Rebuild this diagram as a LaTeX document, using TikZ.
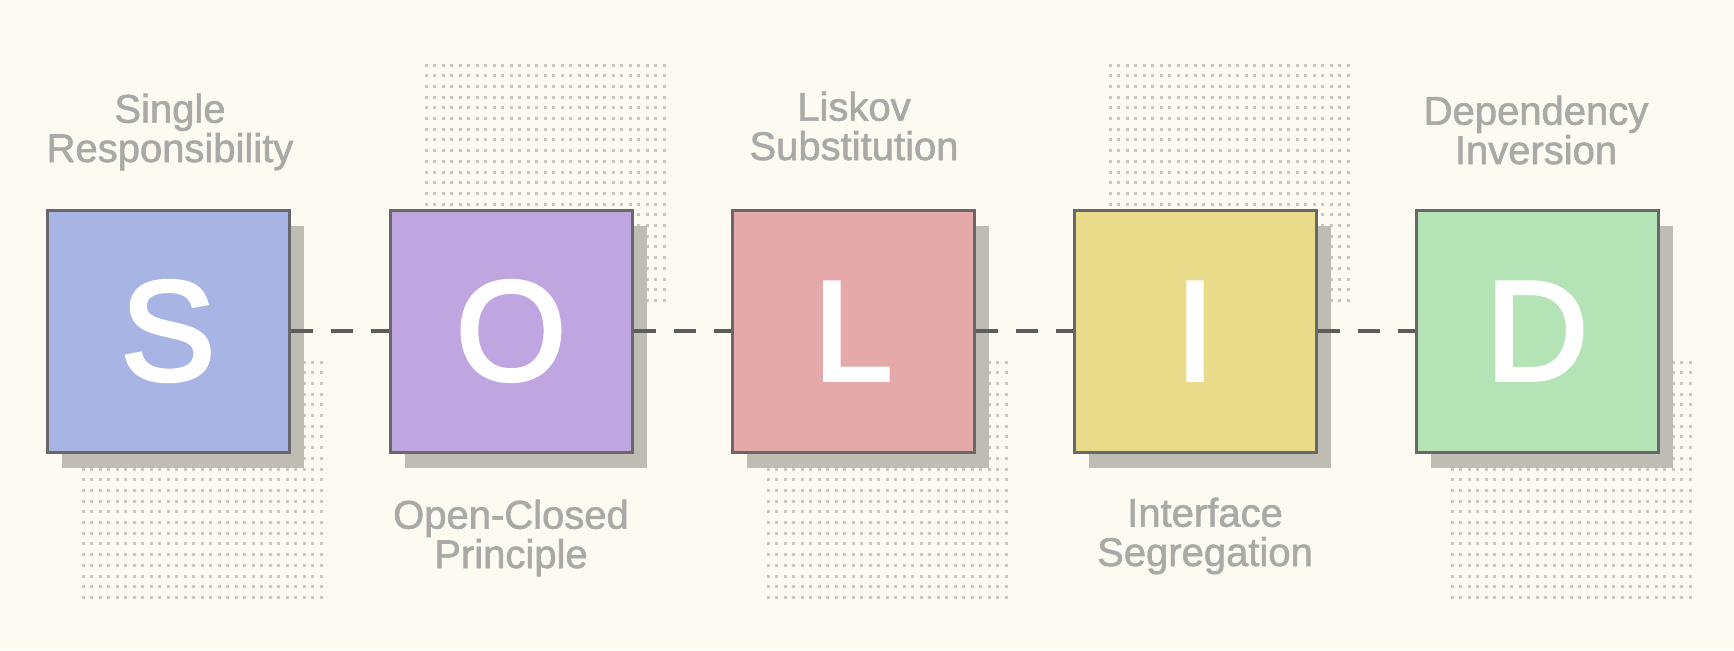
\documentclass[tikz,border=0pt]{standalone}
\usepackage{fontspec}
\setmainfont{Liberation Sans}
\newfontfamily\bigletter[FakeBold=3]{Liberation Sans}
\newfontfamily\labfont[FakeBold=1.5]{Liberation Sans}
\definecolor{bgc}{HTML}{FDFBF1}
\definecolor{dotc}{HTML}{CAC7BE}
\definecolor{shadowc}{HTML}{BFBCB3}
\definecolor{cS}{HTML}{A8B4E3}
\definecolor{cO}{HTML}{C0A6E1}
\definecolor{cL}{HTML}{E6A9AA}
\definecolor{cI}{HTML}{E8DC8B}
\definecolor{cD}{HTML}{B4E4B5}
\definecolor{borderc}{HTML}{68686A}
\definecolor{labc}{HTML}{A9A9A7}
\definecolor{dashc}{HTML}{5C5C5C}
\tikzset{
  letterbox/.style={draw=borderc, line width=2.25pt, minimum width=181.5pt, minimum height=181.5pt,
    inner sep=0pt, text=white, font=\bigletter\fontsize{106}{106}\selectfont},
  lab/.style={align=center, text=labc, anchor=base, inner sep=0pt, font=\labfont\fontsize{30}{29.5}\selectfont},
  conn/.style={draw=dashc, line width=2.7pt, dash pattern=on 16.5pt off 13.5pt},
  shadowbox/.style={fill=shadowc},
  dotmark/.style={fill=dotc}
}
\begin{document}
\begin{tikzpicture}[x=0.75pt,y=-0.75pt]
\fill[bgc] (0,0) rectangle (1734,650);
\useasboundingbox (0,0) rectangle (1734,650);
% dotted patterns
\foreach \px/\py in {83/362, 426/65, 768/362, 1110/65, 1452/362}{
  \foreach \i in {0,...,28}{
    \foreach \j in {0,...,22}{
      \fill[dotmark] (\px+\i*8.5-1.5, \py+\j*10.7-1.5) rectangle ++(3,3);
    }
  }
}
% shadows
\foreach \cx in {168, 511, 853, 1195, 1537}{
  \fill[shadowbox] (\cx-106, 226) rectangle ++(242,242);
}
% boxes
\node[letterbox, fill=cS] (S) at (168,331) {S};
\node[letterbox, fill=cO] (O) at (511,331) {O};
\node[letterbox, fill=cL] (L) at (853,331) {L};
\node[letterbox, fill=cI] (I) at (1195,331) {I};
\node[letterbox, fill=cD] (D) at (1537,331) {D};
% connectors
\draw[conn] (S.east) -- (O.west);
\draw[conn] (O.east) -- (L.west);
\draw[conn] (L.east) -- (I.west);
\draw[conn] (I.east) -- (D.west);
% labels (anchored at the baseline of the last line)
\node[lab] (lS) at (170,162) {Single\\Responsibility};
\node[lab] (lO) at (511,568) {Open-Closed\\Principle};
\node[lab] (lL) at (854,160) {Liskov\\Substitution};
\node[lab] (lI) at (1205,566) {Interface\\Segregation};
\node[lab] (lD) at (1536,164) {Dependency\\Inversion};
\end{tikzpicture}
\end{document}
